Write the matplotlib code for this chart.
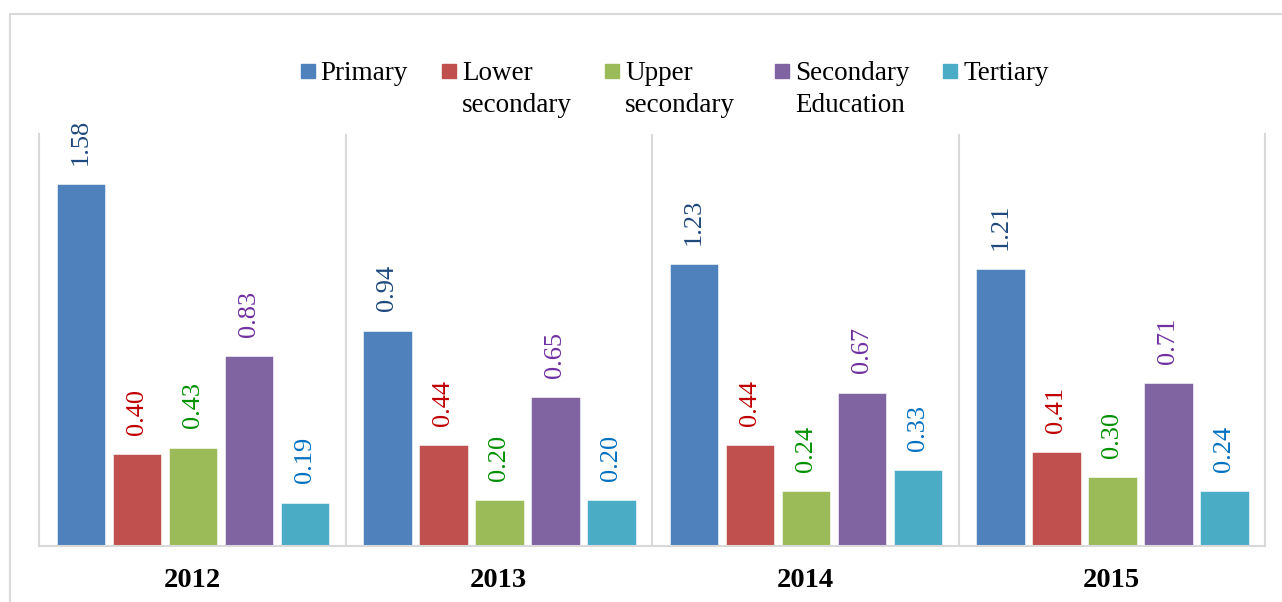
import numpy as np
import matplotlib.pyplot as plt
from matplotlib.patches import Rectangle

years = ['2012', '2013', '2014', '2015']
series = ['Primary', 'Lower\nsecondary', 'Upper\nsecondary', 'Secondary\nEducation', 'Tertiary']
primary = [1.58, 0.94, 1.23, 1.21]
lower_secondary = [0.40, 0.44, 0.44, 0.41]
upper_secondary = [0.43, 0.20, 0.24, 0.30]
secondary_edu = [0.83, 0.65, 0.67, 0.71]
tertiary = [0.19, 0.20, 0.33, 0.24]
values = [primary, lower_secondary, upper_secondary, secondary_edu, tertiary]

bar_colors = ['#4F81BD', '#C0504D', '#9BBB59', '#8064A2', '#4BACC6']
label_colors = ['#1F497D', '#C00000', '#009000', '#7030A0', '#0070C0']

plt.rcParams['font.family'] = ['Liberation Serif', 'DejaVu Serif']

fig = plt.figure(figsize=(12.82, 6.02), dpi=100)
W, H = 1282, 602
ax = fig.add_axes([39 / W, 1 - 546 / H, (1265 - 39) / W, (546 - 134) / H])

# outer chart border
fig.patches.append(Rectangle((10 / W, -0.05), 1.1, 1 - 14 / H + 0.05, transform=fig.transFigure,
                             fill=False, edgecolor='#D9D9D9', linewidth=1.5))

x = np.arange(len(years))
width = 0.157
step = 0.1827
for i, vals in enumerate(values):
    pos = x + 0.137 + i * step
    ax.bar(pos, vals, width, color=bar_colors[i], edgecolor='white', linewidth=0.4)
    for px, v in zip(pos, vals):
        ax.annotate(f'{v:.2f}', (px, v), xytext=(0, 14), textcoords='offset points',
                    rotation=90, ha='center', va='bottom', fontsize=19,
                    color=label_colors[i])

ax.set_xlim(0, len(years))
ax.set_ylim(0, 1.8)
ax.set_yticks([])
ax.set_xticks(x + 0.5)
ax.set_xticklabels(years, fontsize=20.5, fontweight='bold')
ax.set_xticks(np.arange(len(years) + 1), minor=True)
ax.tick_params(axis='x', which='both', length=0, pad=16)
ax.grid(which='minor', axis='x', color='#D9D9D9', linewidth=1.5)
ax.set_axisbelow(True)
for side in ['left', 'right', 'bottom']:
    ax.spines[side].set_color('#D9D9D9')
    ax.spines[side].set_linewidth(1.5)
ax.spines['top'].set_visible(False)

# legend drawn by hand so the swatch lines up with the first text line
marker_x = [301, 442, 605, 775, 943]
text_x = [320, 462, 625, 795, 963]
for i, name in enumerate(series):
    fig.patches.append(Rectangle((marker_x[i] / W, 1 - 78 / H), 14 / W, 14 / H,
                                 transform=fig.transFigure, color=bar_colors[i]))
    fig.text(text_x[i] / W, 1 - 61 / H, name, fontsize=19.5, ha='left', va='top',
             linespacing=1.36, color='black')

fig.savefig('out.png', dpi=100)
